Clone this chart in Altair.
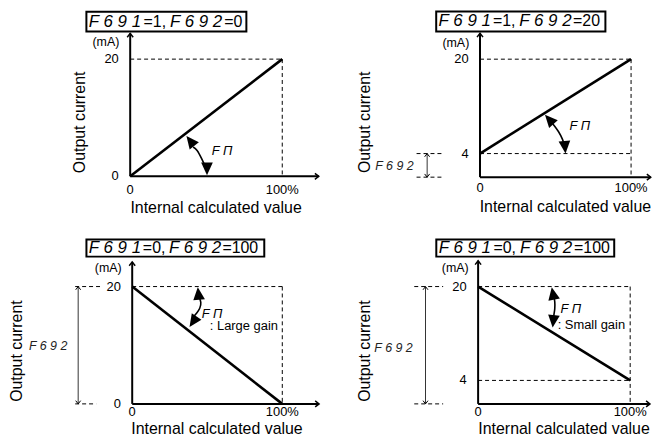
import altair as alt
import pandas as pd

FONT = "Liberation Sans"

# ---------------- values ----------------
f691 = ["1", "1", "0", "0"]
f692 = ["0", "20", "100", "100"]
pct = [0, 100]                      # internal calculated value, %
mA_at_0 = [0, 4, 20, 20]            # output current at 0 %
mA_at_100 = [20, 20, 0, 4]          # output current at 100 %
x_tick_labels = ["0", "100%"]
y_tick_values = [[0, 20], [4, 20], [0, 20], [4, 20]]
gain_notes = ["", "", ": Large gain", ": Small gain"]

# scale windows of the four panels (x in %, y in mA)
x_domains = [[-79.7, 131.4], [-99.3, 113.2], [-82.1, 131.8], [-97.4, 113.7]]
y_domains = [[-7.8, 28.5], [-7.6, 28.45], [-5.25, 31.0], [-5.25, 31.0]]
axis_top = [24.4, 24.4, 24.2, 24.4]
axis_right = [124, 113, 124.5, 113]

# dashed guide segments (x, y, x2, y2)
guides = [
    [(0, 20, 100, 20), (100, 20, 100, 0)],
    [(0, 20, 100, 20), (100, 20, 100, 0), (0, 4, 100, 4), (-42, 4, -24, 4), (-42, 0, -24, 0)],
    [(0, 20, 100, 20), (100, 20, 100, 0), (-38, 20, -21, 20), (-38, 0, -24, 0)],
    [(0, 20, 100, 20), (100, 20, 100, 0), (0, 4, 100, 4), (-42, 20, -23, 20), (-42, 0, -23, 0)],
]
# F692 span bracket (x, from mA, to mA)
brackets = [None, (-35, 0, 4), (-36, 0, 20), (-34.6, 0, 20)]
bracket_label = [None, (-56.6, 1.9), (-56.0, 9.8), (-55.6, 9.5)]

# FM gain arcs (x %, mA) and their arrow tips (x, y, angle)
arcs = [
    [(41.4, 5.0), (44.0, 4.4), (46.9, 3.05), (49.0, 1.9), (50.3, 1.2)],
    [(48.0, 9.1), (52.0, 7.7), (54.6, 6.4), (55.9, 5.4)],
    [(44.4, 18.3), (45.7, 17.3), (45.0, 16.3), (43.0, 15.5), (41.0, 14.9)],
    [(49.7, 18.5), (50.4, 17.4), (50.4, 16.2), (49.9, 15.3), (49.7, 14.7)],
]
arc_tips = [
    [(37.0, 6.9, 322), (50.5, 0.2, 180)],
    [(43.0, 10.6, 318), (56.6, 4.0, 175)],
    [(43.7, 19.9, 354), (38.2, 13.1, 214)],
    [(48.4, 19.9, 349), (49.0, 13.0, 186)],
]
fm_label_pos = [(53.6, 4.4), (59.2, 8.6), (46.4, 15.4), (54.2, 16.1)]
note_pos = [None, None, (51.7, 13.2), (52.3, 13.4)]

# title boxes: x-left, x-right, y-bottom, y-top
title_box = [(-28.8, 76.4, 24.7, 28.1), (-29.0, 83.0, 24.7, 28.1),
             (-30.5, 88.0, 25.1, 28.0), (-27.5, 89.5, 25.1, 28.0)]
title_offsets = [1.6, 37.6, 55.0, 90.6]

ma_label_pos = [(-16, 23.0), (-16, 22.7), (-16, 23.2), (-15, 23.2)]
ytitle_pos = [(-33, 9.2), (-76, 9.3), (-77, 9.0), (-74.5, 9.0)]
xtick_y = [-2.4, -1.9, -1.4, -1.4]
xtitle_y = [-5.4, -5.0, -4.3, -4.3]

CHEVRON = "M -1 1.3 L 0 0 L 1 1.3"
HEAD = "M 0 0 L -0.46 1 L 0.46 1 Z"


def panel(i):
    xs = alt.Scale(domain=x_domains[i], nice=False, zero=False)
    ys = alt.Scale(domain=y_domains[i], nice=False, zero=False)

    def X(f):
        return alt.X(f"{f}:Q", scale=xs, axis=None)

    def Y(f):
        return alt.Y(f"{f}:Q", scale=ys, axis=None)

    def rules(df, **mark):
        base = dict(color="black")
        base.update(mark)
        return alt.Chart(df).mark_rule(**base).encode(
            x=X("x"), y=Y("y"), x2="x2:Q", y2="y2:Q")

    def texts(df, **mark):
        base = dict(font=FONT, color="black", baseline="middle")
        base.update(mark)
        return alt.Chart(df).mark_text(**base).encode(x=X("x"), y=Y("y"), text="t:N")

    def points(df, shape, **mark):
        return alt.Chart(df).mark_point(shape=shape, color="black", opacity=1, **mark).encode(
            x=X("x"), y=Y("y"), angle=alt.Angle("a:Q", scale=None))

    layers = []
    g = pd.DataFrame(guides[i], columns=["x", "y", "x2", "y2"])
    layers.append(rules(g, strokeWidth=1, strokeDash=[4, 3]))
    if brackets[i] is not None:
        bx, b0, b1 = brackets[i]
        layers.append(rules(pd.DataFrame({"x": [bx], "y": [b0], "x2": [bx], "y2": [b1]}),
                            strokeWidth=1, color="#333"))
        layers.append(points(pd.DataFrame({"x": [bx, bx], "y": [b1, b0], "a": [0, 180]}),
                             CHEVRON, filled=False, size=25, strokeWidth=1))
        lx, ly = bracket_label[i]
        layers.append(texts(pd.DataFrame({"x": [lx], "y": [ly], "t": ["F 6 9 2"]}),
                            fontSize=12.5, fontStyle="italic", align="center", color="#222"))
    ax = pd.DataFrame({"x": [0, 0], "y": [0, 0], "x2": [0, axis_right[i]], "y2": [axis_top[i], 0]})
    layers.append(rules(ax, strokeWidth=2))
    layers.append(points(pd.DataFrame({"x": [0, axis_right[i]], "y": [axis_top[i], 0], "a": [0, 90]}),
                         CHEVRON, filled=False, size=36, strokeWidth=1.5))
    line = pd.DataFrame({"x": pct, "y": [mA_at_0[i], mA_at_100[i]]})
    layers.append(alt.Chart(line).mark_line(color="black", strokeWidth=2.6).encode(x=X("x"), y=Y("y")))
    arc = pd.DataFrame(arcs[i], columns=["x", "y"])
    arc["o"] = range(len(arc))
    layers.append(alt.Chart(arc).mark_line(color="black", strokeWidth=1.6, interpolate="natural").encode(
        x=X("x"), y=Y("y"), order="o:Q"))
    layers.append(points(pd.DataFrame(arc_tips[i], columns=["x", "y", "a"]), HEAD,
                         filled=True, size=650, strokeWidth=0.5))
    fx, fy = fm_label_pos[i]
    layers.append(texts(pd.DataFrame({"x": [fx], "y": [fy], "t": ["F Π"]}),
                        fontSize=13, fontStyle="italic", align="left"))
    if note_pos[i] is not None:
        nx, ny = note_pos[i]
        layers.append(texts(pd.DataFrame({"x": [nx], "y": [ny], "t": [gain_notes[i]]}),
                            fontSize=13, align="left"))
    yt = y_tick_values[i]
    layers.append(texts(pd.DataFrame({"x": [-7.5] * len(yt), "y": yt, "t": [str(v) for v in yt]}),
                        fontSize=13, align="right"))
    layers.append(texts(pd.DataFrame({"x": pct, "y": [xtick_y[i]] * 2, "t": x_tick_labels}),
                        fontSize=13, align="center"))
    mx, my = ma_label_pos[i]
    layers.append(texts(pd.DataFrame({"x": [mx], "y": [my], "t": ["(mA)"]}),
                        fontSize=12.5, align="center"))
    layers.append(texts(pd.DataFrame({"x": [56.5], "y": [xtitle_y[i]], "t": ["Internal calculated value"]}),
                        fontSize=16, align="center"))
    tx, ty = ytitle_pos[i]
    layers.append(texts(pd.DataFrame({"x": [tx], "y": [ty], "t": ["Output current"]}),
                        fontSize=16, align="center", angle=270))
    bl, br, bb, bt = title_box[i]
    layers.append(alt.Chart(pd.DataFrame({"x": [bl], "x2": [br], "y": [bb], "y2": [bt]})).mark_rect(
        fill="white", stroke="black", strokeWidth=2).encode(x=X("x"), x2="x2:Q", y=Y("y"), y2="y2:Q"))
    ty_ = (bb + bt) / 2
    led = pd.DataFrame({"x": [bl + title_offsets[0], bl + title_offsets[2]],
                        "y": [ty_, ty_], "t": ["F 6 9 1", "F 6 9 2"]})
    plain = pd.DataFrame({"x": [bl + title_offsets[1], bl + title_offsets[3]],
                          "y": [ty_, ty_], "t": ["=" + f691[i] + ",", "=" + f692[i]]})
    layers.append(texts(led, fontSize=17, fontStyle="italic", align="left"))
    layers.append(texts(plain, fontSize=16, align="left"))

    return alt.layer(*layers).properties(width=323, height=214)


chart = alt.concat(panel(0), panel(1), panel(2), panel(3), columns=2, spacing=0).properties(
    padding=0, background="white").configure_view(stroke=None)

chart.save("out.html", embed_options={"renderer": "svg", "actions": False})
